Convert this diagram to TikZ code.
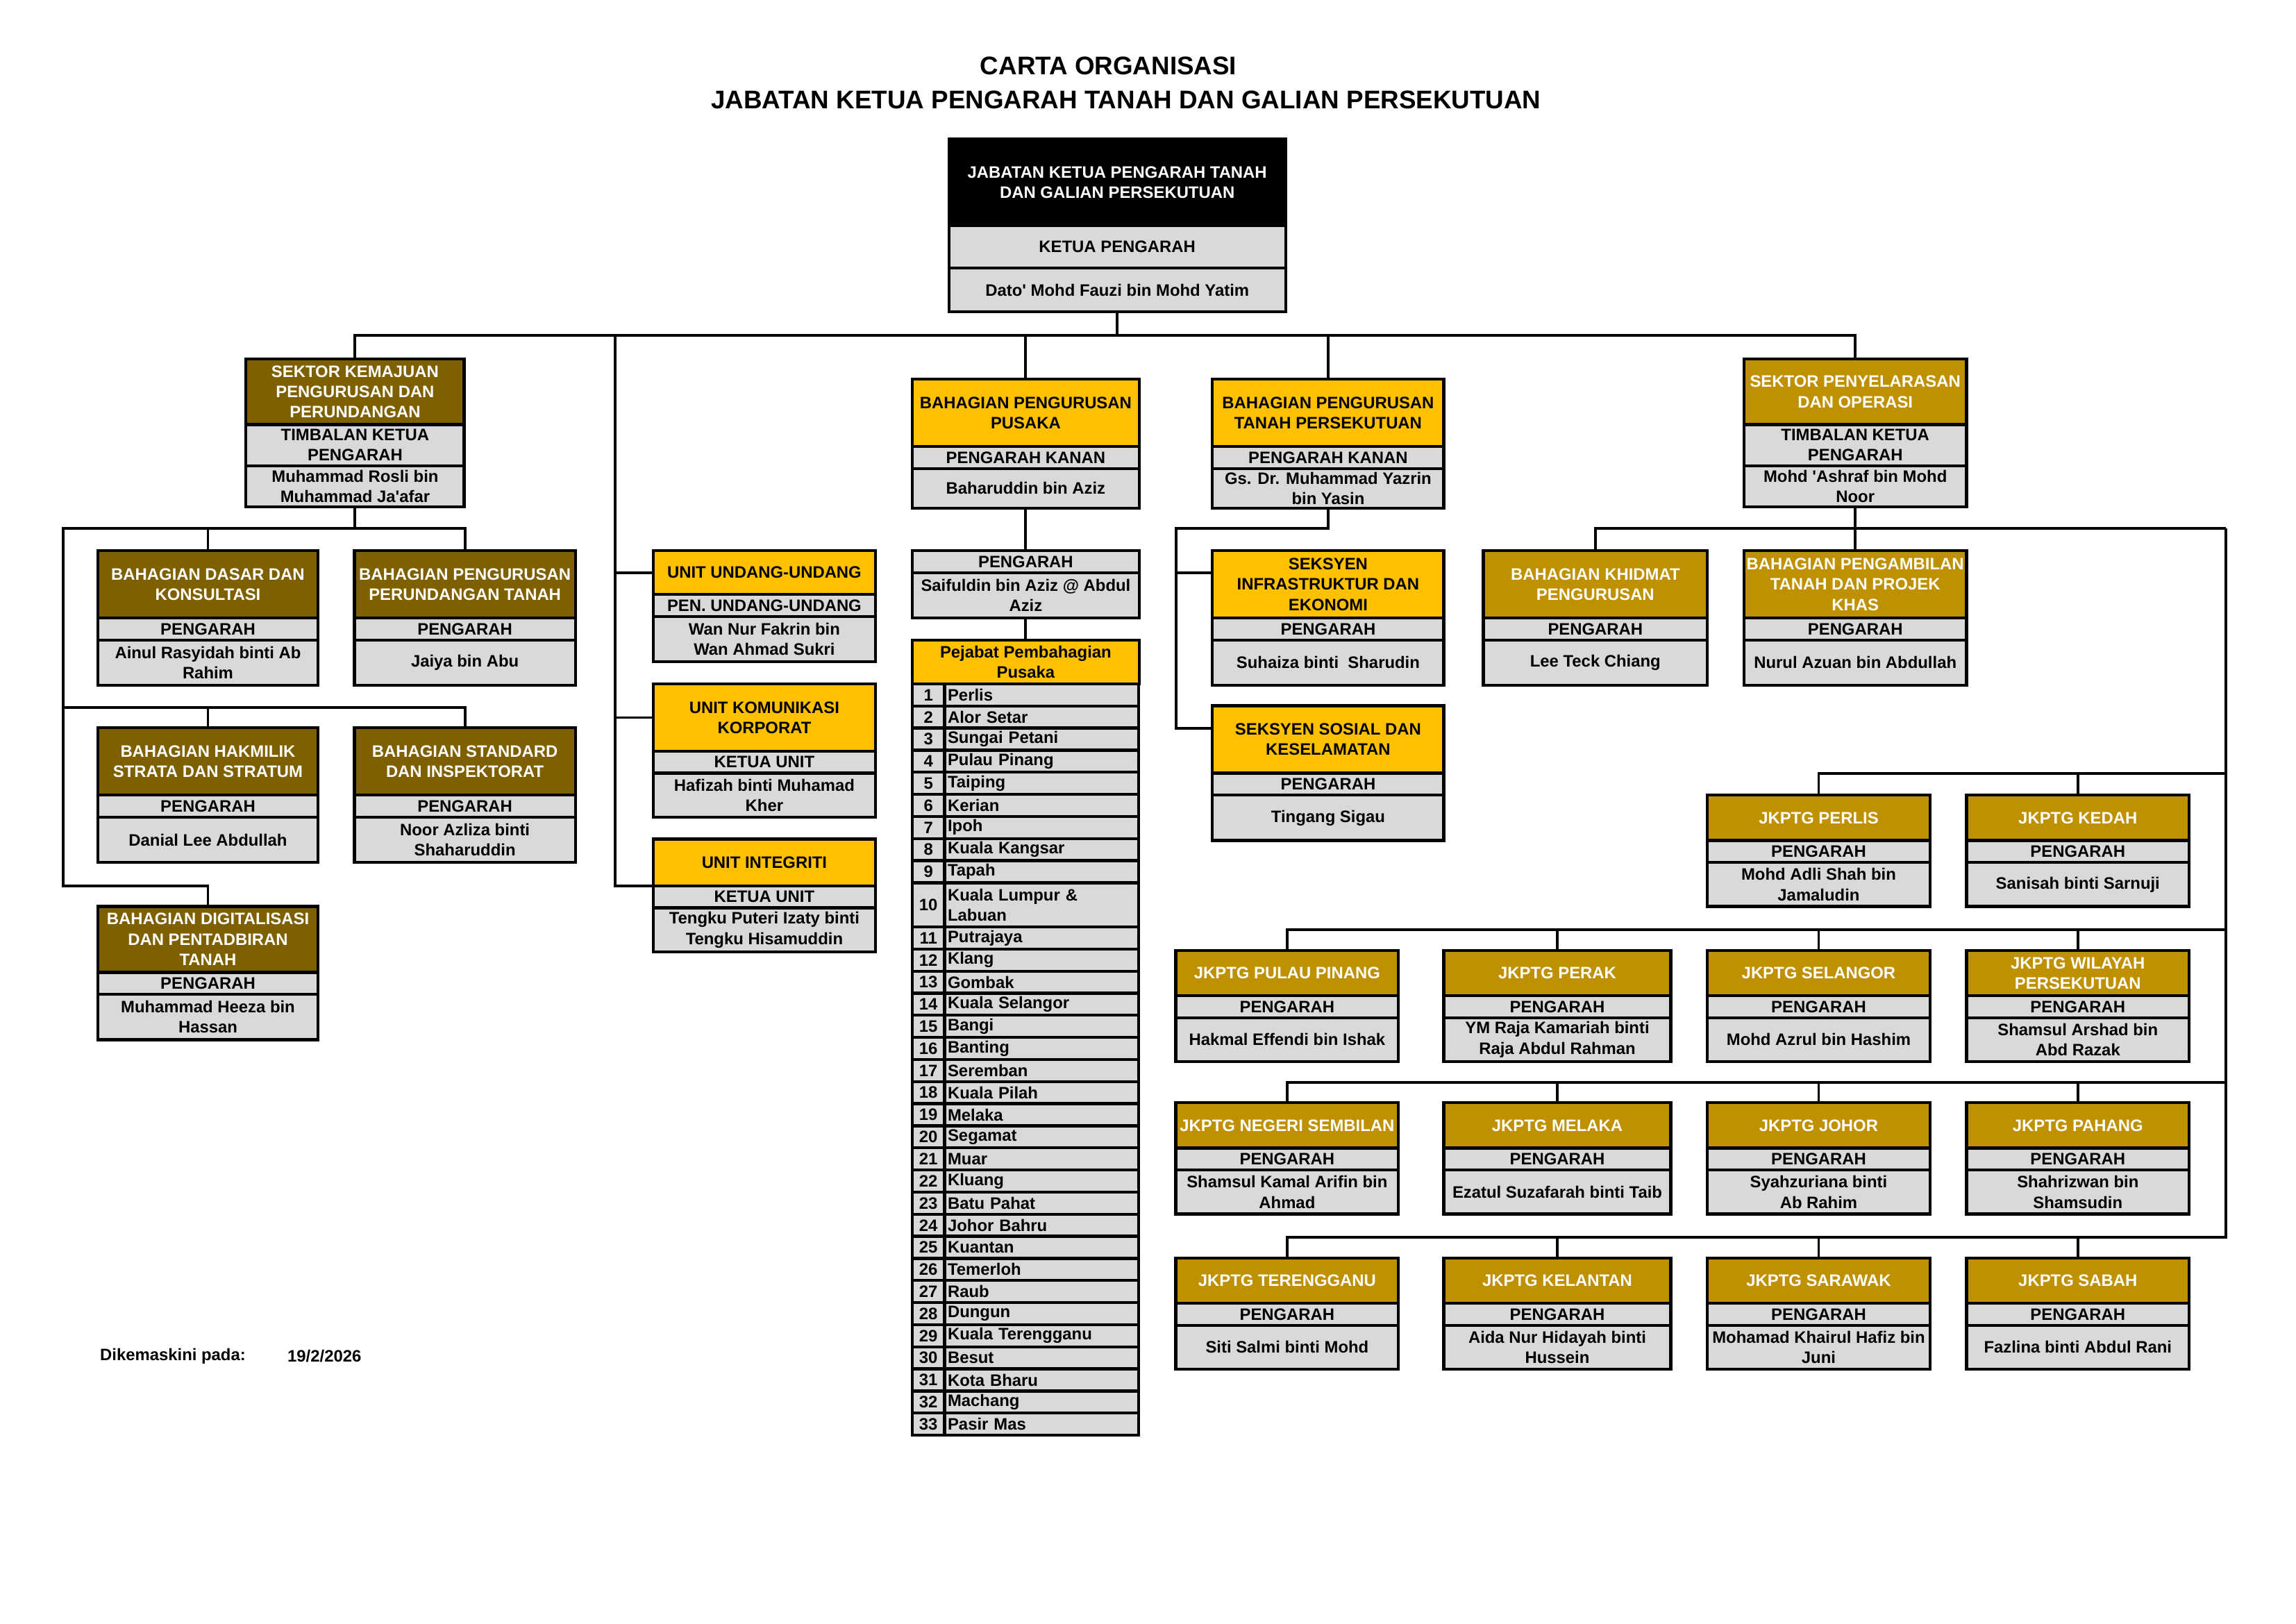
\documentclass[tikz,border=0pt]{standalone}
\usepackage{fontspec}
\setmainfont{Liberation Sans}
\usepackage{tikz}
\usetikzlibrary{positioning,calc}

\definecolor{hdbrown}{HTML}{7F6000}
\definecolor{hdgold}{HTML}{BF9000}
\definecolor{hdyellow}{HTML}{FFC000}
\definecolor{boxgrey}{HTML}{D9D9D9}

\newcommand{\dpx}{0.1894mm}
\newcommand{\boxfont}{\fontsize{6.1}{7.5}\selectfont\bfseries}
\def\sethts#1/#2/#3\relax{\def\hA{#1}\def\hB{#2}\def\hC{#3}}
\newcommand{\orgbox}[8]{%
	\sethts#4\relax
	\node[cell, #5, minimum width=#3*\dpx, minimum height=\hA*\dpx, anchor=north west] (#1) at #2 {#6};
	\node[cell, fill=boxgrey, minimum width=#3*\dpx, minimum height=\hB*\dpx, below=0pt of #1] (#1-r) {#7};
	\node[cell, fill=boxgrey, minimum width=#3*\dpx, minimum height=\hC*\dpx, below=0pt of #1-r] (#1-n) {#8};
}

\begin{document}
\begin{tikzpicture}[x=0.1894mm, y=-0.1894mm,
		cell/.style={draw, line width=1.1pt, outer sep=0pt, inner sep=0.4pt, align=center, font=\boxfont},
		listcell/.style={draw, fill=boxgrey, line width=1.1pt, outer sep=0pt, inner sep=0.4pt, font=\boxfont},
		blackhd/.style={fill=black, text=white},
		brownhd/.style={fill=hdbrown, text=white},
		goldhd/.style={fill=hdgold, text=white},
		yellowhd/.style={fill=hdyellow, text=black},
		link/.style={line width=1pt}]
	\useasboundingbox (0,0) rectangle (1568,1109);

	\node[font=\fontsize{9.4}{11}\selectfont\bfseries] (tajuk1) at (757,45) {CARTA ORGANISASI};
	\node[font=\fontsize{9.4}{11}\selectfont\bfseries] (tajuk2) at (769,68) {JABATAN KETUA PENGARAH TANAH DAN GALIAN PERSEKUTUAN};

	\orgbox{ketua}{(648,95)}{230}{59/29/30}{blackhd}{JABATAN KETUA PENGARAH TANAH\\DAN GALIAN PERSEKUTUAN}{KETUA PENGARAH}{Dato\textquotesingle{} Mohd Fauzi bin Mohd Yatim}

	\orgbox{kemajuan}{(168,245)}{149}{45/28/28}{brownhd}{SEKTOR KEMAJUAN\\PENGURUSAN DAN\\PERUNDANGAN}{TIMBALAN KETUA\\PENGARAH}{Muhammad Rosli bin\\Muhammad Ja\textquotesingle afar}
	\orgbox{dasar}{(67,376)}{150}{46/15/31}{brownhd}{BAHAGIAN DASAR DAN\\KONSULTASI}{PENGARAH}{Ainul Rasyidah binti Ab\\Rahim}
	\orgbox{perundangan}{(242,376)}{151}{46/15/31}{brownhd}{BAHAGIAN PENGURUSAN\\PERUNDANGAN TANAH}{PENGARAH}{Jaiya bin Abu}
	\orgbox{hakmilik}{(67,497)}{150}{46/15/31}{brownhd}{BAHAGIAN HAKMILIK\\STRATA DAN STRATUM}{PENGARAH}{Danial Lee Abdullah}
	\orgbox{standard}{(242,497)}{151}{46/15/31}{brownhd}{BAHAGIAN STANDARD\\DAN INSPEKTORAT}{PENGARAH}{Noor Azliza binti\\Shaharuddin}
	\orgbox{digital}{(67,619)}{150}{45/15/31}{brownhd}{BAHAGIAN DIGITALISASI\\DAN PENTADBIRAN\\TANAH}{PENGARAH}{Muhammad Heeza bin\\Hassan}

	\orgbox{undang}{(446,376)}{152}{30/15/31}{yellowhd}{UNIT UNDANG-UNDANG}{PEN. UNDANG-UNDANG}{Wan Nur Fakrin bin\\Wan Ahmad Sukri}
	\orgbox{komunikasi}{(446,467)}{152}{46/15/30}{yellowhd}{UNIT KOMUNIKASI\\KORPORAT}{KETUA UNIT}{Hafizah binti Muhamad\\Kher}
	\orgbox{integriti}{(446,573)}{152}{32/15/30}{yellowhd}{UNIT INTEGRITI}{KETUA UNIT}{Tengku Puteri Izaty binti\\Tengku Hisamuddin}

	\orgbox{pusaka}{(623,259)}{155}{46/15/27}{yellowhd}{BAHAGIAN PENGURUSAN\\PUSAKA}{PENGARAH KANAN}{Baharuddin bin Aziz}
	\node[cell, fill=boxgrey, minimum width=155*\dpx, minimum height=15*\dpx, anchor=north west] (pusakadir) at (623,376) {PENGARAH};
	\node[cell, fill=boxgrey, minimum width=155*\dpx, minimum height=31*\dpx, below=0pt of pusakadir] (pusakadir-n) {Saifuldin bin Aziz @ Abdul\\Aziz};
	\node[cell, yellowhd, minimum width=155*\dpx, minimum height=30*\dpx, anchor=north west] (pejabat) at (623,437) {Pejabat Pembahagian\\Pusaka};
	\foreach \i/\nm/\h in {1/Perlis/1, 2/Alor Setar/1, 3/Sungai Petani/1, 4/Pulau Pinang/1, 5/Taiping/1, 6/Kerian/1, 7/Ipoh/1, 8/Kuala Kangsar/1, 9/Tapah/1, 10/{Kuala Lumpur \&\\Labuan}/2, 11/Putrajaya/1, 12/Klang/1, 13/Gombak/1, 14/Kuala Selangor/1, 15/Bangi/1, 16/Banting/1, 17/Seremban/1, 18/Kuala Pilah/1, 19/Melaka/1, 20/Segamat/1, 21/Muar/1, 22/Kluang/1, 23/Batu Pahat/1, 24/Johor Bahru/1, 25/Kuantan/1, 26/Temerloh/1, 27/Raub/1, 28/Dungun/1, 29/Kuala Terengganu/1, 30/Besut/1, 31/Kota Bharu/1, 32/Machang/1, 33/Pasir Mas/1}{
		\pgfmathsetmacro{\yy}{467+15.09*(\i-1+(\i>10))}
		\node[listcell, minimum width=22*\dpx, minimum height=\h*15.09*\dpx, anchor=north west] (no\i) at (623,\yy) {\i};
		\node[listcell, align=left, text width=24.3mm, inner xsep=1.2pt, minimum height=\h*15.09*\dpx, anchor=west] (nm\i) at (no\i.east) {\nm};
	}

	\orgbox{persekutuan}{(828,259)}{158}{46/15/27}{yellowhd}{BAHAGIAN PENGURUSAN\\TANAH PERSEKUTUAN}{PENGARAH KANAN}{Gs. Dr. Muhammad Yazrin\\bin Yasin}
	\orgbox{infra}{(828,376)}{158}{46/15/31}{yellowhd}{SEKSYEN\\INFRASTRUKTUR DAN\\EKONOMI}{PENGARAH}{Suhaiza binti~~Sharudin}
	\orgbox{sosial}{(828,482)}{158}{46/15/31}{yellowhd}{SEKSYEN SOSIAL DAN\\KESELAMATAN}{PENGARAH}{Tingang Sigau}

	\orgbox{penyelarasan}{(1191,245)}{152}{45/28/28}{goldhd}{SEKTOR PENYELARASAN\\DAN OPERASI}{TIMBALAN KETUA\\PENGARAH}{Mohd \textquotesingle Ashraf bin Mohd\\Noor}
	\orgbox{khidmat}{(1013,376)}{153}{46/15/31}{goldhd}{BAHAGIAN KHIDMAT\\PENGURUSAN}{PENGARAH}{Lee Teck Chiang}
	\orgbox{pengambilan}{(1191,376)}{152}{46/15/31}{goldhd}{BAHAGIAN PENGAMBILAN\\TANAH DAN PROJEK\\KHAS}{PENGARAH}{Nurul Azuan bin Abdullah}

	\foreach \n/\x/\y/\w/\jt/\jp in {
		perlis/1166/543/152/{JKPTG PERLIS}/{Mohd Adli Shah bin\\Jamaludin},
		kedah/1343/543/152/{JKPTG KEDAH}/{Sanisah binti Sarnuji},
		pinang/803/649/152/{JKPTG PULAU PINANG}/{Hakmal Effendi bin Ishak},
		perak/986/649/155/{JKPTG PERAK}/{YM Raja Kamariah binti\\Raja Abdul Rahman},
		selangor/1166/649/152/{JKPTG SELANGOR}/{Mohd Azrul bin Hashim},
		wilayah/1343/649/152/{JKPTG WILAYAH\\PERSEKUTUAN}/{Shamsul Arshad bin\\Abd Razak},
		nsembilan/803/753/152/{JKPTG NEGERI SEMBILAN}/{Shamsul Kamal Arifin bin\\Ahmad},
		melaka/986/753/155/{JKPTG MELAKA}/{Ezatul Suzafarah binti Taib},
		johor/1166/753/152/{JKPTG JOHOR}/{Syahzuriana binti\\Ab Rahim},
		pahang/1343/753/152/{JKPTG PAHANG}/{Shahrizwan bin\\Shamsudin},
		terengganu/803/859/152/{JKPTG TERENGGANU}/{Siti Salmi binti Mohd},
		kelantan/986/859/155/{JKPTG KELANTAN}/{Aida Nur Hidayah binti\\Hussein},
		sarawak/1166/859/152/{JKPTG SARAWAK}/{Mohamad Khairul Hafiz bin\\Juni},
		sabah/1343/859/152/{JKPTG SABAH}/{Fazlina binti Abdul Rani}}
		{\orgbox{\n}{(\x,\y)}{\w}{31/15/30}{goldhd}{\jt}{PENGARAH}{\jp}}

	\node[font=\fontsize{6.1}{7}\selectfont\bfseries, anchor=west, inner sep=0pt] (kemaskini) at (68,926) {Dikemaskini pada:};
	\node[font=\fontsize{6.1}{7}\selectfont\bfseries, anchor=west, inner sep=0pt] (tarikh) at (196,926) {19/2/2026};

	\coordinate (atas) at ($(ketua-n.south)+(0,16)$);
	\draw[link] (ketua-n.south) -- (atas);
	\draw[link] (kemajuan.north) -- (kemajuan.north |- atas) -- (penyelarasan.north |- atas) -- (penyelarasan.north);
	\draw[link] (pusaka.north) -- (pusaka.north |- atas);
	\draw[link] (persekutuan.north) -- (persekutuan.north |- atas);

	\coordinate (ux) at (420,229);
	\draw[link] (ux) |- (integriti.south west);
	\draw[link] (ux |- undang.west) -- (undang.west);
	\draw[link] (ux |- komunikasi.west) -- (komunikasi.west);

	\coordinate (kx) at (43,361);
	\draw[link] (kemajuan-n.south) -- (kemajuan-n.south |- kx);
	\draw[link] (perundangan.north) |- (kx) |- ($(digital.north)+(0,-14)$) -- (digital.north);
	\draw[link] (dasar.north) -- (dasar.north |- kx);
	\draw[link] (standard.north) |- ($(kx |- hakmilik.north)+(0,-14)$);
	\draw[link] (hakmilik.north) -- ++(0,-14);

	\draw[link] (pusaka-n.south) -- (pusakadir.north);
	\draw[link] (pusakadir-n.south) -- (pejabat.north);

	\coordinate (tx) at (803,361);
	\coordinate (infraL) at ($(infra.north west)!0.33!(infra.south west)$);
	\coordinate (sosialL) at ($(sosial.north west)!0.33!(sosial.south west)$);
	\draw[link] (persekutuan-n.south) |- (tx) |- (sosialL);
	\draw[link] (infraL -| tx) -- (infraL);

	\coordinate (rx) at (1520,361);
	\draw[link] (penyelarasan-n.south) -- (pengambilan.north);
	\draw[link] (khidmat.north) |- (rx);
	\draw[link] (perlis.north) -- ++(0,-15) -| (rx);
	\draw[link] (kedah.north) -- ++(0,-15);
	\draw[link] (pinang.north) -- ++(0,-14) -| (rx);
	\draw[link] (nsembilan.north) -- ++(0,-14) -| (rx);
	\draw[link] (terengganu.north) -- ++(0,-14) -| (rx);
	\foreach \j in {perak, selangor, wilayah, melaka, johor, pahang, kelantan, sarawak, sabah}
		\draw[link] (\j.north) -- ++(0,-14);
\end{tikzpicture}
\end{document}
